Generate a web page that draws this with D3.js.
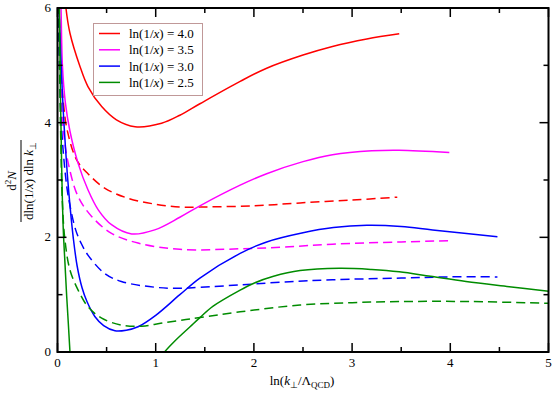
<!DOCTYPE html>
<html><head><meta charset="utf-8">
<script src="https://cdn.jsdelivr.net/npm/d3@7"></script>
<style>body{margin:0;background:#fff}svg{display:block}text{font-family:"Liberation Serif","Times New Roman",serif;}</style>
</head><body><svg id="c" width="554" height="393"></svg>
<script>
const xTicks = [0,1,2,3,4,5];
const yTicks = [0,2,4,6];
const legendLabels = ["4.0","3.5","3.0","2.5"];
const colors = ["#ff0000","#ff00ff","#0000ff","#008c00"];

const redSolid = [[0.078,6.2],[0.086,6.0],[0.127,5.56],[0.229,4.98],[0.31,4.63],[0.45,4.28],[0.6,4.05],[0.79,3.93],[1.06,3.99],[1.246,4.13],[1.45,4.33],[1.86,4.72],[2.13,4.95],[2.5,5.18],[2.8,5.33],[3.15,5.46],[3.48,5.55]];
const redDashed = [[0.015,6.3],[0.03,5.1],[0.06,4.35],[0.1,3.86],[0.195,3.35],[0.31,3.11],[0.48,2.86],[0.72,2.68],[0.99,2.58],[1.246,2.53],[1.5,2.53],[2.0,2.55],[2.47,2.6],[3.0,2.65],[3.46,2.7]];
const magSolid = [[0.03,6.3],[0.036,6.0],[0.05,5.0],[0.08,4.35],[0.127,3.85],[0.21,3.29],[0.31,2.83],[0.415,2.48],[0.55,2.22],[0.755,2.06],[0.99,2.13],[1.246,2.35],[1.45,2.55],[1.86,2.91],[2.13,3.11],[2.5,3.32],[2.8,3.44],[3.2,3.51],[3.48,3.52],[3.99,3.48]];
const magDashed = [[0.015,6.3],[0.03,4.9],[0.06,3.87],[0.11,3.29],[0.21,2.71],[0.35,2.36],[0.55,2.07],[0.82,1.9],[1.246,1.79],[1.86,1.8],[2.3,1.83],[2.8,1.88],[3.5,1.92],[3.99,1.94]];
const blueSolid = [[0.01,6.3],[0.015,6.0],[0.05,4.5],[0.07,3.87],[0.1,3.1],[0.13,2.5],[0.16,2.0],[0.2,1.5],[0.25,1.12],[0.3,0.88],[0.38,0.62],[0.47,0.46],[0.585,0.37],[0.7,0.38],[0.82,0.44],[1.0,0.64],[1.246,1.0],[1.45,1.29],[1.86,1.72],[2.13,1.92],[2.5,2.08],[2.81,2.17],[3.15,2.21],[3.5,2.19],[3.82,2.13],[4.48,2.01]];
const blueDashed = [[0.006,6.3],[0.02,5.0],[0.043,3.87],[0.08,3.1],[0.11,2.71],[0.185,2.13],[0.24,1.9],[0.31,1.69],[0.48,1.37],[0.65,1.23],[0.99,1.13],[1.246,1.11],[1.45,1.13],[1.86,1.17],[2.3,1.22],[2.8,1.26],[3.5,1.29],[4.0,1.31],[4.48,1.31]];
const greenSolidA = [[0.018,6.3],[0.03,4.5],[0.045,3.0],[0.059,2.13],[0.076,1.55],[0.094,0.96],[0.127,0.0],[0.133,-0.3]];
const greenSolidB = [[1.05,-0.1],[1.09,0.0],[1.2,0.2],[1.35,0.44],[1.45,0.6],[1.585,0.8],[1.86,1.08],[2.0,1.2],[2.2,1.32],[2.47,1.42],[2.87,1.46],[3.2,1.44],[3.48,1.4],[3.8,1.32],[4.16,1.23],[4.6,1.14],[5.0,1.06]];
const greenDashed = [[0.012,6.3],[0.03,4.0],[0.05,2.6],[0.076,1.95],[0.127,1.43],[0.21,1.08],[0.31,0.79],[0.45,0.59],[0.65,0.47],[0.86,0.45],[1.05,0.5],[1.246,0.55],[1.45,0.6],[1.86,0.7],[2.47,0.82],[3.0,0.86],[3.48,0.88],[4.2,0.88],[5.0,0.85]];

const series = [
  {d:redSolid,c:0,dash:false},{d:redDashed,c:0,dash:true},
  {d:magSolid,c:1,dash:false},{d:magDashed,c:1,dash:true},
  {d:blueSolid,c:2,dash:false},{d:blueDashed,c:2,dash:true},
  {d:greenSolidA,c:3,dash:false},{d:greenSolidB,c:3,dash:false},{d:greenDashed,c:3,dash:true}
];

const svg = d3.select("#c");
const L=57.5, R=548.5, T=8, B=352;
const x = d3.scaleLinear().domain([0,5]).range([L,R]);
const y = d3.scaleLinear().domain([0,6]).range([B,T]);

svg.append("clipPath").attr("id","clip").append("rect").attr("x",L).attr("y",T).attr("width",R-L).attr("height",B-T);

const line = d3.line().x(d=>x(d[0])).y(d=>y(d[1])).curve(d3.curveCatmullRom.alpha(0.5));
const g = svg.append("g").attr("clip-path","url(#clip)");
series.forEach(s=>{
  g.append("path").attr("d",line(s.d)).attr("fill","none").attr("stroke",colors[s.c])
   .attr("stroke-width",1.5).attr("stroke-dasharray",s.dash?"9,5":null);
});

// frame
svg.append("rect").attr("x",L).attr("y",T).attr("width",R-L).attr("height",B-T).attr("fill","none").attr("stroke","#000").attr("stroke-width",2);

// ticks (inward, all sides)
const xt = d3.range(0,5.01,0.5), yt = d3.range(0,6.01,1);
xt.forEach(v=>{
  const major = Math.abs(v-Math.round(v))<1e-6, len = major?9:5;
  svg.append("line").attr("x1",x(v)).attr("x2",x(v)).attr("y1",B).attr("y2",B-len).attr("stroke","#000").attr("stroke-width",1.5);
  svg.append("line").attr("x1",x(v)).attr("x2",x(v)).attr("y1",T).attr("y2",T+len).attr("stroke","#000").attr("stroke-width",1.5);
});
yt.forEach(v=>{
  const major = v%2===0, len = major?9:5;
  svg.append("line").attr("x1",L).attr("x2",L+len).attr("y1",y(v)).attr("y2",y(v)).attr("stroke","#000").attr("stroke-width",1.5);
  svg.append("line").attr("x1",R).attr("x2",R-len).attr("y1",y(v)).attr("y2",y(v)).attr("stroke","#000").attr("stroke-width",1.5);
});
xTicks.forEach(v=>{
  svg.append("text").attr("x",x(v)).attr("y",367).attr("text-anchor","middle").attr("font-size",13).text(v);
});
yTicks.forEach(v=>{
  svg.append("text").attr("x",51).attr("y",y(v)+4).attr("text-anchor","end").attr("font-size",13).text(v);
});

// x label
const xl = svg.append("text").attr("x",302).attr("y",385).attr("text-anchor","middle").attr("font-size",13);
xl.append("tspan").text("ln(");
xl.append("tspan").attr("font-style","italic").text("k");
xl.append("tspan").attr("font-size",9).attr("dy",3).text("⊥");
xl.append("tspan").attr("dy",-3).text("/Λ");
xl.append("tspan").attr("font-size",9).attr("dy",3).text("QCD");
xl.append("tspan").attr("dy",-3).text(")");

// y label fraction
const yg = svg.append("g").attr("transform","translate(21,181) rotate(-90)");
yg.append("line").attr("x1",-41).attr("x2",41).attr("y1",0).attr("y2",0).attr("stroke","#000").attr("stroke-width",1);
const num = yg.append("text").attr("x",0).attr("y",-5).attr("text-anchor","middle").attr("font-size",13);
num.append("tspan").text("d");
num.append("tspan").attr("font-size",9).attr("dy",-5).text("2");
num.append("tspan").attr("font-style","italic").attr("dy",5).text("N");
const den = yg.append("text").attr("x",0).attr("y",12).attr("text-anchor","middle").attr("font-size",13);
den.append("tspan").text("dln(1/");
den.append("tspan").attr("font-style","italic").text("x");
den.append("tspan").text(") dln ");
den.append("tspan").attr("font-style","italic").text("k");
den.append("tspan").attr("font-size",9).attr("dy",3).text("⊥");

// legend
svg.append("rect").attr("x",93.5).attr("y",23.5).attr("width",109).attr("height",72).attr("fill","#fff").attr("stroke","#c09898").attr("stroke-width",1);
legendLabels.forEach((lab,i)=>{
  const ly = 33.5 + i*16.3;
  svg.append("line").attr("x1",99).attr("x2",120).attr("y1",ly).attr("y2",ly).attr("stroke",colors[i]).attr("stroke-width",1.5);
  const t = svg.append("text").attr("x",129).attr("y",ly+4.5).attr("font-size",13);
  t.append("tspan").text("ln(1/");
  t.append("tspan").attr("font-style","italic").text("x");
  t.append("tspan").text(") = "+lab);
});
</script></body></html>
